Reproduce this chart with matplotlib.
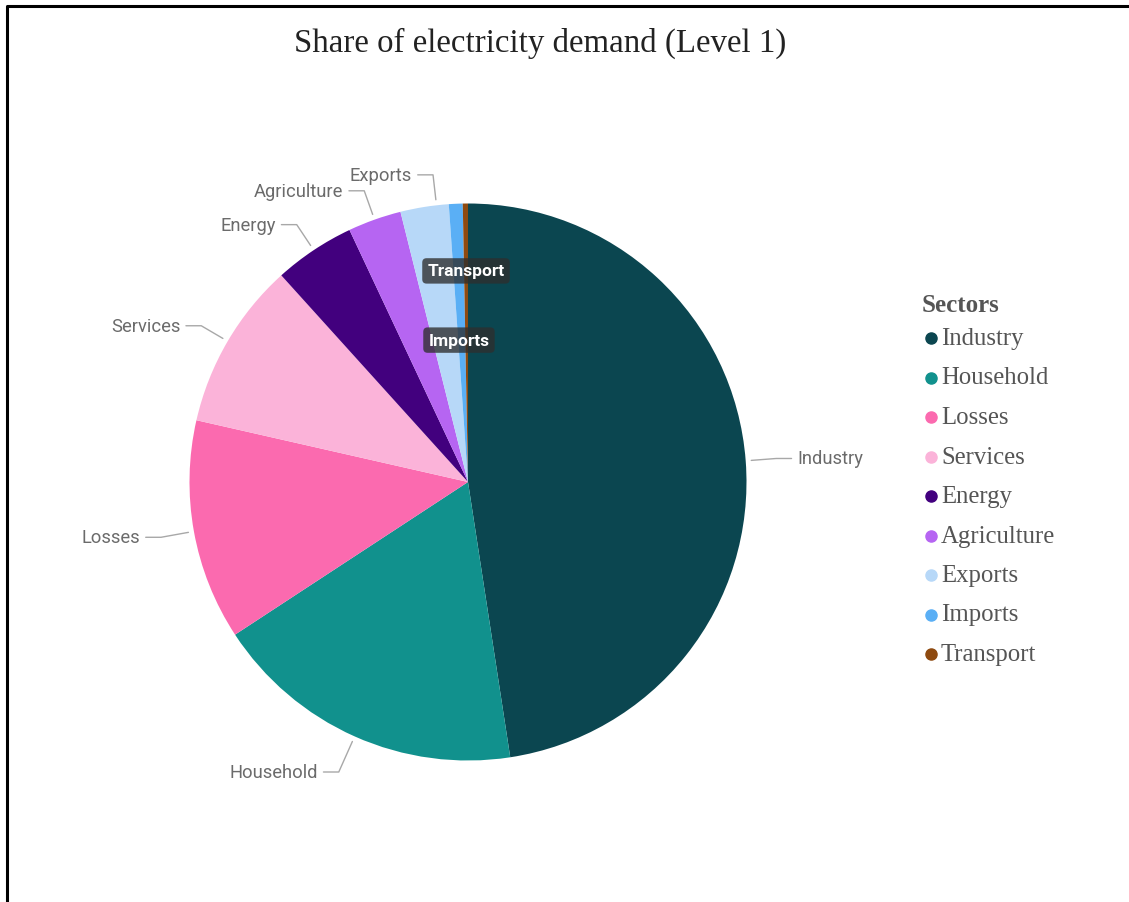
import numpy as np
import matplotlib
matplotlib.use("Agg")
import matplotlib.pyplot as plt
from matplotlib.lines import Line2D

# Share of electricity demand by sector (%)
sectors = ["Industry", "Household", "Losses", "Services", "Energy",
           "Agriculture", "Exports", "Imports", "Transport"]
shares = [47.6, 18.2, 12.8, 9.75, 4.7, 3.1, 2.8, 0.8, 0.3]
colors = ["#0B4650", "#11918D", "#FB6AAF", "#FBB3D9", "#42007E",
          "#B665F2", "#B7D8F8", "#5AAFF5", "#8E4A10"]
outer_labels = ["Industry", "Household", "Losses", "Services", "Energy",
                "Agriculture", "Exports"]
inner_labels = ["Transport", "Imports"]

W, H = 1129, 903
fig = plt.figure(figsize=(W / 100, H / 100), dpi=100)
fig.patch.set_facecolor("white")

# pie axes placed in pixel geometry
cx, cy, R = 468, 483, 278.5
ax = fig.add_axes([(cx - R) / W, (H - cy - R) / H, 2 * R / W, 2 * R / H])

wedges, _ = ax.pie(shares, colors=colors, startangle=90, counterclock=False,
                   radius=1.0, wedgeprops=dict(linewidth=0))
ax.set_xlim(-1, 1)
ax.set_ylim(-1, 1)
ax.set_aspect("equal")
ax.axis("off")

label_font = "Roboto"
label_color = "#6b6b6b"
line_color = "#a8a8a8"

total = sum(shares)
cum = np.cumsum([0] + shares[:-1])
mid_deg = {s: (c + v / 2) / total * 360 for s, c, v in zip(sectors, cum, shares)}

# outer labels with elbow leader lines
angle_tweak = {"Exports": 2.5}
elbow_r = {"Household": 1.14, "Losses": 1.12}
for name in outer_labels:
    th = np.deg2rad(mid_deg[name] + angle_tweak.get(name, 0.0))
    sx, sy = np.sin(th), np.cos(th)
    re = elbow_r.get(name, 1.11)
    p0 = (1.02 * sx, 1.02 * sy)
    p1 = (re * sx, re * sy)
    side = 1 if sx > 0 else -1
    p2 = (p1[0] + side * 0.055, p1[1])
    ax.plot([p0[0], p1[0], p2[0]], [p0[1], p1[1], p2[1]], color=line_color,
            lw=1.0, clip_on=False, solid_capstyle="round")
    ax.text(p2[0] + side * 0.02, p2[1], name, ha="left" if side > 0 else "right",
            va="center", fontsize=13.2, family=label_font, color=label_color,
            clip_on=False)

# labels drawn inside the thin slices
inner_r = {"Transport": 0.758, "Imports": 0.51}
for name in inner_labels:
    th = np.deg2rad(mid_deg[name])
    r = inner_r[name]
    ax.text(r * np.sin(th) - (0.01 if name == "Imports" else 0.0), r * np.cos(th), name,
            ha="center", va="center", fontsize=12.5, family=label_font,
            fontweight="bold", color="white",
            bbox=dict(boxstyle="round,pad=0.3,rounding_size=0.25",
                      fc="#2e2e2e", ec="none", alpha=0.78))

# title
fig.text(540 / W, 1 - 43 / H, "Share of electricity demand (Level 1)",
         ha="center", va="center", family="Liberation Serif", fontsize=23.7,
         color="#222222")

# legend
serif = "Liberation Serif"
fig.text(922 / W, 1 - 306 / H, "Sectors", ha="left", va="center", family=serif,
         fontsize=18, fontweight="bold", color="#555555")
y0, dy = 339, 39.5
for i, (name, col) in enumerate(zip(sectors, colors)):
    y = 1 - (y0 + i * dy) / H
    fig.add_artist(Line2D([931 / W], [y], marker="o", markersize=8,
                          color=col, linestyle="none", transform=fig.transFigure))
    fig.text(941 / W, y, name, ha="left", va="center", family=serif,
             fontsize=17.8, color="#555555")

# frame lines along the left and top edges
fig.add_artist(Line2D([7 / W, 7 / W, 1.0], [0.0, 1 - 6.5 / H, 1 - 6.5 / H],
                      color="black", lw=2.2, transform=fig.transFigure))

fig.savefig("out.png", dpi=100, facecolor="white")
